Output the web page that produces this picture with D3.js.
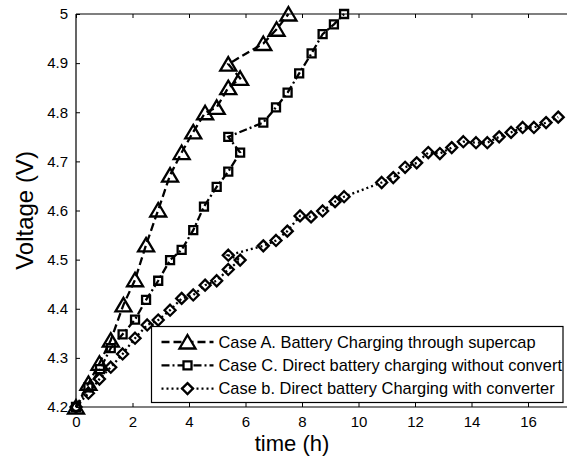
<!DOCTYPE html>
<html>
<head>
<meta charset="utf-8">
<script src="https://cdn.jsdelivr.net/npm/d3@7"></script>
<style>
  body { margin: 0; background: #fff; }
  text { font-family: "Liberation Sans", Arial, sans-serif; fill: #000; }
</style>
</head>
<body>
<div id="chart"></div>
<script>
/* CONSTANTS AND GLOBALS */
const width = 567,
  height = 462,
  margin = { top: 14, left: 76, bottom: 55 };

// case A - battery charging through supercap (triangles, dashed)
const caseA_t = [0, 0.44, 0.83, 1.23, 1.68, 2.09, 2.48, 2.91, 3.33, 3.74, 4.15, 4.57, 4.98, 5.39, 5.81, 5.39, 6.63, 7.1, 7.52];
const caseA_v = [4.2, 4.248, 4.289, 4.336, 4.408, 4.459, 4.53, 4.601, 4.672, 4.718, 4.76, 4.799, 4.81, 4.85, 4.869, 4.898, 4.94, 4.969, 5.0];

// case C - direct charging without converter (squares, dash-dot)
const caseC_t = [0, 0.44, 0.85, 1.23, 1.65, 2.09, 2.48, 2.91, 3.33, 3.74, 4.15, 4.53, 4.98, 5.39, 5.81, 5.39, 6.63, 7.08, 7.49, 7.9, 8.34, 8.73, 9.13, 9.49];
const caseC_v = [4.2, 4.24, 4.277, 4.32, 4.348, 4.378, 4.418, 4.457, 4.499, 4.52, 4.56, 4.608, 4.648, 4.679, 4.718, 4.75, 4.779, 4.81, 4.84, 4.879, 4.92, 4.959, 4.979, 5.0];

// case b - direct charging with converter (diamonds, dotted)
const caseB_t = [0, 0.44, 0.83, 1.23, 1.65, 2.09, 2.52, 2.91, 3.33, 3.74, 4.15, 4.57, 4.98, 5.39, 5.81, 5.39, 6.63, 7.08, 7.48, 7.93, 8.32, 8.73, 9.17, 9.49,
  10.82, 11.23, 11.65, 12.06, 12.47, 12.88, 13.3, 13.71, 14.16, 14.56, 14.98, 15.4, 15.81, 16.21, 16.64, 17.07];
const caseB_v = [4.2, 4.228, 4.257, 4.281, 4.308, 4.34, 4.367, 4.377, 4.397, 4.421, 4.428, 4.448, 4.457, 4.48, 4.499, 4.509, 4.528, 4.539, 4.558, 4.589, 4.587, 4.599, 4.618, 4.628,
  4.657, 4.667, 4.688, 4.697, 4.718, 4.716, 4.728, 4.74, 4.738, 4.738, 4.75, 4.759, 4.769, 4.769, 4.779, 4.79];

const xTicks = [0, 2, 4, 6, 8, 10, 12, 14, 16];
const yTicks = [4.2, 4.3, 4.4, 4.5, 4.6, 4.7, 4.8, 4.9, 5];
const legendLabels = [
  "Case A. Battery Charging through supercap",
  "Case C. Direct battery charging without convert",
  "Case b. Direct battery Charging with converter"
];

const series = [
  { t: caseA_t, v: caseA_v, marker: "triangle", dash: "8,4" },
  { t: caseC_t, v: caseC_v, marker: "square", dash: "8,3,2,3" },
  { t: caseB_t, v: caseB_v, marker: "diamond", dash: "2,3" }
];

// marker shapes drawn around 0,0
function markerPath(type) {
  if (type === "triangle") return "M0,-7L8,6.5L-8,6.5Z";
  if (type === "square") return "M-4,-4H4V4H-4Z";
  return "M0,-5.5L5.5,0L0,5.5L-5.5,0Z";
}

/* SVG */
const svg = d3.select("#chart")
  .append("svg")
  .attr("width", width)
  .attr("height", height);

// axes run past the right edge of the picture
const xScale = d3.scaleLinear()
  .domain([0, 17.45])
  .range([margin.left, margin.left + 17.45 * 28.25]);

const yScale = d3.scaleLinear()
  .domain([4.2, 5])
  .range([height - margin.bottom, margin.top]);

const x0 = xScale.range()[0], x1 = xScale.range()[1];
const y0 = yScale.range()[0], y1 = yScale.range()[1];

// + AXES (matlab style, ticks pointing in)
svg.append("g")
  .attr("class", "xAxis")
  .attr("transform", `translate(0, ${y0})`)
  .call(d3.axisBottom(xScale).tickValues(xTicks).tickSizeInner(-4).tickSizeOuter(0).tickPadding(9))
  .call(g => g.select(".domain").remove());

svg.append("g")
  .attr("class", "xAxisTop")
  .attr("transform", `translate(0, ${y1})`)
  .call(d3.axisTop(xScale).tickValues(xTicks).tickSizeInner(-4).tickSizeOuter(0).tickFormat(""))
  .call(g => g.select(".domain").remove());

svg.append("g")
  .attr("class", "yAxis")
  .attr("transform", `translate(${x0}, 0)`)
  .call(d3.axisLeft(yScale).tickValues(yTicks).tickSizeInner(-4).tickSizeOuter(0).tickPadding(8).tickFormat(d3.format("")))
  .call(g => g.select(".domain").remove());

svg.selectAll(".xAxis text, .yAxis text")
  .attr("font-size", 15)
  .attr("font-family", "Liberation Sans, Arial, sans-serif");
svg.selectAll(".tick line").attr("stroke", "#000");

// box
svg.append("path")
  .attr("d", `M${x0},${y1}V${y0}H${x1}M${x0},${y1}H${x1}`)
  .attr("fill", "none")
  .attr("stroke", "#000")
  .attr("stroke-width", 1.2);

// axis titles
svg.append("text")
  .attr("x", 292)
  .attr("y", 451)
  .attr("text-anchor", "middle")
  .attr("font-size", 22)
  .text("time (h)");

svg.append("text")
  .attr("transform", `translate(33, ${(y0 + y1) / 2}) rotate(-90)`)
  .attr("text-anchor", "middle")
  .attr("font-size", 24)
  .text("Voltage (V)");

/* LINES AND MARKERS */
const lineGen = d3.line()
  .x(d => xScale(d[0]))
  .y(d => yScale(d[1]));

series.forEach(s => {
  const pts = s.t.map((t, i) => [t, s.v[i]]);
  svg.append("path")
    .datum(pts)
    .attr("d", lineGen)
    .attr("fill", "none")
    .attr("stroke", "#000")
    .attr("stroke-width", 2.3)
    .attr("stroke-dasharray", s.dash);

  svg.selectAll(null)
    .data(pts)
    .join("path")
    .attr("d", markerPath(s.marker))
    .attr("transform", d => `translate(${xScale(d[0])}, ${yScale(d[1])})`)
    .attr("fill", "none")
    .attr("stroke", "#000")
    .attr("stroke-width", 2.3);
});

/* LEGEND */
const legend = { x: 151.5, y: 326.5, w: 411.5, h: 76 };
svg.append("clipPath")
  .attr("id", "legclip")
  .append("rect")
  .attr("x", legend.x).attr("y", legend.y)
  .attr("width", legend.w).attr("height", legend.h);

const leg = svg.append("g");
leg.append("rect")
  .attr("x", legend.x).attr("y", legend.y)
  .attr("width", legend.w).attr("height", legend.h)
  .attr("fill", "#fff")
  .attr("stroke", "#000")
  .attr("stroke-width", 1.2);

// clip on an untransformed group so the clip rect stays in page coordinates
const rows = leg.append("g")
  .attr("clip-path", "url(#legclip)")
  .selectAll("g.row")
  .data(series)
  .join("g")
  .attr("class", "row")
  .attr("transform", (d, i) => `translate(${legend.x}, ${legend.y + 15.5 + i * 23.3})`);

rows.append("line")
  .attr("x1", 10).attr("x2", 62)
  .attr("stroke", "#000")
  .attr("stroke-width", 2.3)
  .attr("stroke-dasharray", d => d.dash);

rows.append("path")
  .attr("d", d => markerPath(d.marker))
  .attr("transform", "translate(36, 0)")
  .attr("fill", "#fff")
  .attr("stroke", "#000")
  .attr("stroke-width", 2.3);

rows.append("text")
  .attr("x", 67)
  .attr("dy", "0.35em")
  .attr("font-size", 16.4)
  .text((d, i) => legendLabels[i]);
</script>
</body>
</html>
